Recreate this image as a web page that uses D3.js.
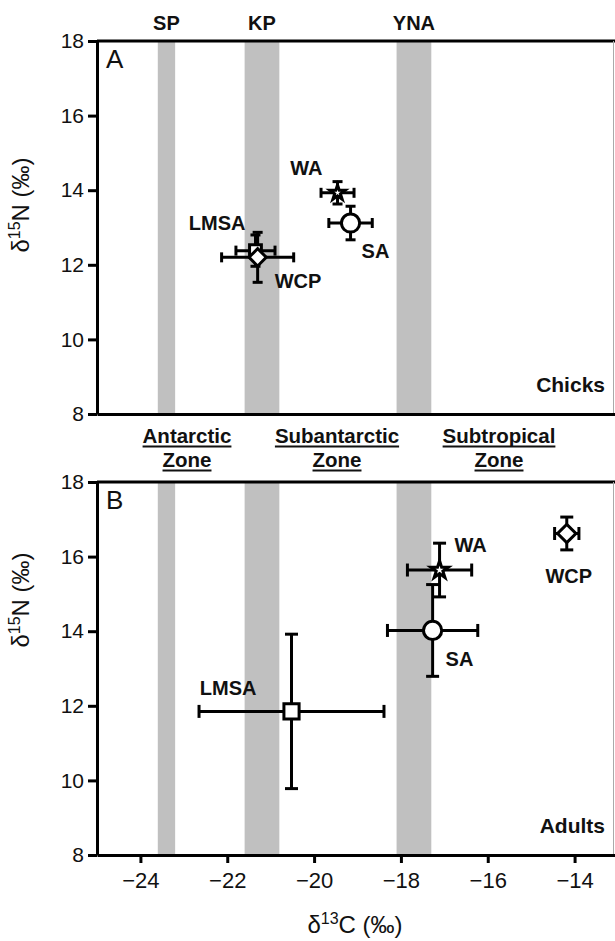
<!DOCTYPE html>
<html>
<head>
<meta charset="utf-8">
<script src="https://cdn.jsdelivr.net/npm/d3@7"></script>
<style>
  html, body { margin: 0; padding: 0; background: #fff; }
  svg { display: block; font-family: "Liberation Sans", Arial, Helvetica, sans-serif; }
</style>
</head>
<body>
<svg id="chart" width="615" height="941"></svg>
<script>
// ---------------- DATA ----------------
const groups = ["WA", "SA", "LMSA", "WCP"];
const groupSymbols = ["star", "circle", "square", "diamond"];

// Panel A — chicks
const chicksC    = [-19.46, -19.16, -21.35, -21.30];
const chicksCsd  = [0.38, 0.50, 0.45, 0.83];
const chicksN    = [13.93, 13.12, 12.38, 12.20];
const chicksNsd  = [0.30, 0.45, 0.42, 0.67];

// Panel B — adults
const adultsC    = [-17.11, -17.27, -20.52, -14.18];
const adultsCsd  = [0.74, 1.04, 2.13, 0.28];
const adultsN    = [15.64, 14.02, 11.85, 16.62];
const adultsNsd  = [0.72, 1.23, 2.07, 0.44];

// Frontal zones (δ13C ranges) shown as grey bands
const frontNames = ["SP", "KP", "YNA"];
const frontMin   = [-23.6, -21.6, -18.1];
const frontMax   = [-23.2, -20.8, -17.3];

const zoneNames  = ["Antarctic", "Subantarctic", "Subtropical"];
const zoneLine2  = ["Zone", "Zone", "Zone"];

const xTicks = [-24, -22, -20, -18, -16, -14];
const yTicks = [8, 10, 12, 14, 16, 18];

// ---------------- LAYOUT ----------------
const W = 615, H = 941;
const left = 97, rightEdge = 613;
const svg = d3.select("#chart");

const x = d3.scaleLinear().domain([-25, -13]).range([left, 618]);
const panels = [
  { id: "A", top: 41, bottom: 414, C: chicksC, Csd: chicksCsd, N: chicksN, Nsd: chicksNsd,
    name: "Chicks", cap: 10, sizes: [70, 260, 140, 150], titleY: 205,
    labels: [
      { anchor: "end",   dx: -15, dy: -18 },
      { anchor: "start", dx: 11,  dy: 35 },
      { anchor: "end",   dx: -10, dy: -21 },
      { anchor: "start", dx: 17,  dy: 31 } ] },
  { id: "B", top: 482, bottom: 855, C: adultsC, Csd: adultsCsd, N: adultsN, Nsd: adultsNsd,
    name: "Adults", cap: 13, sizes: [95, 260, 230, 170], titleY: 600,
    labels: [
      { anchor: "start",  dx: 15,  dy: -18 },
      { anchor: "start",  dx: 13,  dy: 36 },
      { anchor: "end",    dx: -35, dy: -16 },
      { anchor: "middle", dx: 2,   dy: 50 } ] }
];

const defs = svg.append("defs");
defs.append("clipPath").attr("id", "plotclip")
  .append("rect").attr("x", left).attr("y", 0).attr("width", rightEdge - left).attr("height", H);

const symMap = {
  star: d3.symbolStar, circle: d3.symbolCircle, square: d3.symbolSquare, diamond: d3.symbolSquare
};

panels.forEach(p => {
  const y = d3.scaleLinear().domain([8, 18]).range([p.bottom, p.top]);
  const g = svg.append("g");
  const plot = g.append("g").attr("clip-path", "url(#plotclip)");

  // grey bands
  plot.selectAll("rect.band").data(frontNames).join("rect")
    .attr("class", "band")
    .attr("x", (d, i) => x(frontMin[i]))
    .attr("width", (d, i) => x(frontMax[i]) - x(frontMin[i]))
    .attr("y", p.top).attr("height", p.bottom - p.top)
    .attr("fill", "#c0c0c0");

  // frame top + right
  g.append("line").attr("x1", left).attr("x2", W).attr("y1", p.top).attr("y2", p.top)
    .attr("stroke", "#000").attr("stroke-width", 3);
  g.append("line").attr("x1", rightEdge + 0.5).attr("x2", rightEdge + 0.5).attr("y1", p.top).attr("y2", p.bottom)
    .attr("stroke", "#aaa").attr("stroke-width", 1);

  // y axis
  const ya = g.append("g").attr("transform", `translate(${left},0)`)
    .call(d3.axisLeft(y).tickValues(yTicks).tickSize(9).tickSizeOuter(0).tickPadding(4));
  ya.select(".domain").attr("stroke-width", 3);
  ya.selectAll(".tick line").attr("stroke-width", 3);
  ya.selectAll(".tick text").attr("font-size", 21).attr("font-family", "Liberation Sans, Arial, sans-serif").attr("fill", "#111");

  // x axis
  const xa = g.append("g").attr("transform", `translate(0,${p.bottom})`)
    .call(d3.axisBottom(x).tickValues(p.id === "B" ? xTicks : []).tickSize(8).tickSizeOuter(0).tickPadding(9));
  xa.select(".domain").attr("stroke-width", 3);
  xa.selectAll(".tick line").attr("stroke-width", 3);
  xa.selectAll(".tick text").attr("font-size", 22).attr("font-family", "Liberation Sans, Arial, sans-serif").attr("fill", "#111");

  // error bars
  const eb = plot.append("g").attr("stroke", "#000").attr("stroke-width", 3).attr("fill", "none");
  groups.forEach((gname, i) => {
    const cx = x(p.C[i]), cy = y(p.N[i]);
    const x0 = x(p.C[i] - p.Csd[i]), x1 = x(p.C[i] + p.Csd[i]);
    const y0 = y(p.N[i] - p.Nsd[i]), y1 = y(p.N[i] + p.Nsd[i]);
    const h = p.cap / 2;
    eb.append("line").attr("x1", x0).attr("x2", x1).attr("y1", cy).attr("y2", cy);
    eb.append("line").attr("x1", cx).attr("x2", cx).attr("y1", y0).attr("y2", y1);
    eb.append("line").attr("x1", x0).attr("x2", x0).attr("y1", cy - h).attr("y2", cy + h);
    eb.append("line").attr("x1", x1).attr("x2", x1).attr("y1", cy - h).attr("y2", cy + h);
    eb.append("line").attr("x1", cx - h).attr("x2", cx + h).attr("y1", y0).attr("y2", y0);
    eb.append("line").attr("x1", cx - h).attr("x2", cx + h).attr("y1", y1).attr("y2", y1);
  });

  // markers: draw LMSA then WCP on top, then SA, WA
  const order = [2, 3, 1, 0];
  order.forEach(i => {
    const s = groupSymbols[i];
    plot.append("path")
      .attr("d", d3.symbol().type(symMap[s]).size(p.sizes[i])())
      .attr("transform", `translate(${x(p.C[i])},${y(p.N[i])})` + (s === "diamond" ? " rotate(45)" : ""))
      .attr("fill", "#fff").attr("stroke", "#000").attr("stroke-width", 3)
      .attr("stroke-linejoin", "miter");
  });

  // point labels
  groups.forEach((gname, i) => {
    const L = p.labels[i];
    g.append("text")
      .attr("x", x(p.C[i]) + L.dx).attr("y", y(p.N[i]) + L.dy)
      .attr("text-anchor", L.anchor)
      .attr("font-size", 20).attr("font-weight", "bold").attr("fill", "#111")
      .text(gname);
  });

  // panel letter
  g.append("text").attr("x", 106).attr("y", p.top + 27)
    .attr("font-size", 26).attr("fill", "#111").text(p.id);

  // panel name
  g.append("text").attr("x", 605).attr("y", p.bottom - 22)
    .attr("text-anchor", "end").attr("font-size", 21).attr("font-weight", "bold").attr("fill", "#111")
    .text(p.name);

  // y title
  const yt = g.append("text")
    .attr("transform", `translate(29,${p.titleY}) rotate(-90)`)
    .attr("text-anchor", "middle").attr("font-size", 24).attr("fill", "#111");
  yt.append("tspan").text("δ");
  yt.append("tspan").attr("font-size", 16).attr("dy", -9).text("15");
  yt.append("tspan").attr("dy", 9).text("N (‰)");
});

// front labels above panel A
svg.append("g").selectAll("text").data(frontNames).join("text")
  .attr("x", (d, i) => x((frontMin[i] + frontMax[i]) / 2))
  .attr("y", 30)
  .attr("text-anchor", "middle").attr("font-size", 20).attr("font-weight", "bold").attr("fill", "#111")
  .text(d => d);

// zone labels between panels
const zoneCenters = [187, 337, 499];
const zg = svg.append("g");
zoneNames.forEach((z, i) => {
  [z, zoneLine2[i]].forEach((t, k) => {
    const txt = zg.append("text")
      .attr("x", zoneCenters[i]).attr("y", 443 + k * 24)
      .attr("text-anchor", "middle").attr("font-size", 20.5).attr("font-weight", "bold").attr("fill", "#111")
      .text(t);
    const bb = txt.node().getBBox();
    zg.append("line").attr("x1", bb.x).attr("x2", bb.x + bb.width)
      .attr("y1", 446.5 + k * 24).attr("y2", 446.5 + k * 24)
      .attr("stroke", "#111").attr("stroke-width", 2);
  });
});

// x title
const xt = svg.append("text").attr("x", (left + rightEdge) / 2).attr("y", 933)
  .attr("text-anchor", "middle").attr("font-size", 24).attr("fill", "#111");
xt.append("tspan").text("δ");
xt.append("tspan").attr("font-size", 16).attr("dy", -9).text("13");
xt.append("tspan").attr("dy", 9).text("C (‰)");
</script>
</body>
</html>
